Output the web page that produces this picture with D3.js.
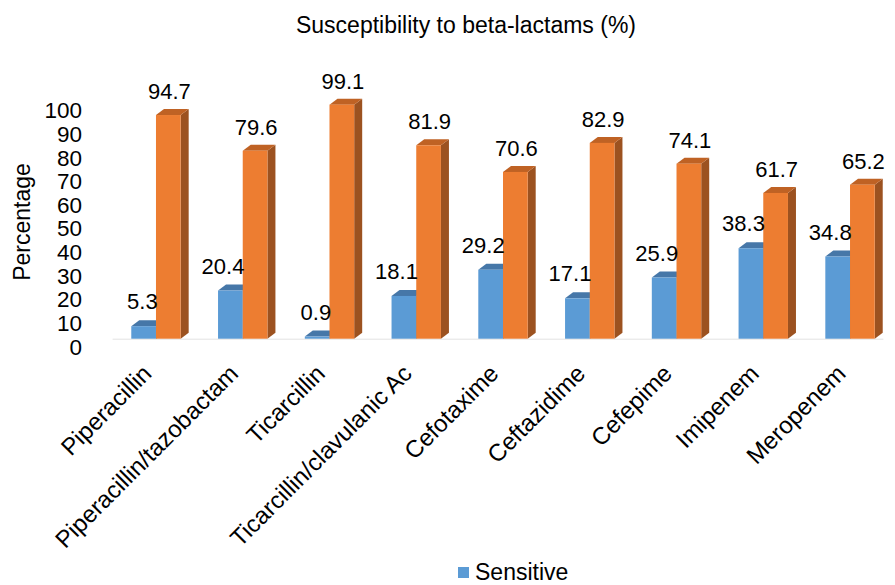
<!DOCTYPE html>
<html>
<head>
<meta charset="utf-8">
<script src="https://cdn.jsdelivr.net/npm/d3@7/dist/d3.min.js"></script>
<style>
  html, body { margin: 0; padding: 0; background: #fff; }
  svg { display: block; font-family: "Liberation Sans", Arial, sans-serif; }
</style>
</head>
<body>
<svg id="chart" width="895" height="585"></svg>
<script>
// Antibiotics tested
const categories = [
  "Piperacillin", "Piperacillin/tazobactam", "Ticarcillin",
  "Ticarcillin/clavulanic Ac", "Cefotaxime", "Ceftazidime",
  "Cefepime", "Imipenem", "Meropenem"
];
// Percent of isolates susceptible
const sensitive = [5.3, 20.4, 0.9, 18.1, 29.2, 17.1, 25.9, 38.3, 34.8];
// Percent of isolates resistant
const resistant = [94.7, 79.6, 99.1, 81.9, 70.6, 82.9, 74.1, 61.7, 65.2];
// Value axis ticks
const yTicks = [0, 10, 20, 30, 40, 50, 60, 70, 80, 90, 100];

const svg = d3.select("#chart");

const x = d3.scaleBand().domain(categories).range([112.6, 893.4]).paddingInner(0).paddingOuter(0);
const y = d3.scaleLinear().domain([0, 100]).range([338.7, 102.5]);

const barW = 24.7;     // width of one bar's front face
const dx = 8, dy = 6;  // depth offset of the 3D extrusion

const center = c => x(c) + x.bandwidth() / 2;

// floor edge
svg.append("line")
  .attr("x1", x.range()[0]).attr("x2", x.range()[1] - 10)
  .attr("y1", y(0) + 0.5).attr("y2", y(0) + 0.5)
  .attr("stroke", "#e3e3e3").attr("stroke-width", 1);

// title
svg.append("text")
  .attr("x", 466).attr("y", 33)
  .attr("text-anchor", "middle")
  .attr("font-size", 23)
  .attr("fill", "#000")
  .text("Susceptibility to beta-lactams (%)");

// value axis labels
svg.append("g").selectAll("text")
  .data(yTicks).join("text")
  .attr("x", 82)
  .attr("y", d => y(d) + 8)
  .attr("dy", "0.35em")
  .attr("text-anchor", "end")
  .attr("font-size", 22.5)
  .text(d => d);

// axis title
svg.append("text")
  .attr("transform", "translate(30,222) rotate(-90)")
  .attr("text-anchor", "middle")
  .attr("font-size", 23)
  .text("Percentage");

// draw one 3D bar: front, top and right side faces
function bar3d(g, x0, v, cols) {
  const x1 = x0 + barW, yt = y(v), yb = y(0);
  g.append("path")
    .attr("d", `M${x1},${yt}L${x1 + dx},${yt - dy}L${x1 + dx},${yb - dy}L${x1},${yb}Z`)
    .attr("fill", cols.side);
  g.append("path")
    .attr("d", `M${x0},${yt}L${x0 + dx},${yt - dy}L${x1 + dx},${yt - dy}L${x1},${yt}Z`)
    .attr("fill", cols.top);
  g.append("rect")
    .attr("x", x0).attr("y", yt)
    .attr("width", barW).attr("height", yb - yt)
    .attr("fill", cols.front);
}

const blue = { front: "#5B9BD5", top: "#4677A8", side: "#3E6A96" };
const orange = { front: "#ED7D31", top: "#BF6224", side: "#9C5220" };

const bars = svg.append("g");
categories.forEach((c, i) => {
  const cx = center(c);
  bar3d(bars, cx - barW, sensitive[i], blue);
  bar3d(bars, cx, resistant[i], orange);
});

// data labels
const labels = svg.append("g").attr("font-size", 22);
categories.forEach((c, i) => {
  const cx = center(c);
  labels.append("text")
    .attr("x", cx - barW / 2 + 14)
    .attr("y", y(sensitive[i]) - 17)
    .attr("text-anchor", "end")
    .text(sensitive[i].toFixed(1));
  labels.append("text")
    .attr("x", cx + barW / 2 + 1)
    .attr("y", y(resistant[i]) - 16)
    .attr("text-anchor", "middle")
    .text(resistant[i].toFixed(1));
});

// category labels, rotated
svg.append("g").selectAll("text")
  .data(categories).join("text")
  .attr("transform", d => `translate(${center(d) - 3},${375}) rotate(-45)`)
  .attr("text-anchor", "end")
  .attr("font-size", 24)
  .text(d => d);

// legend
const lg = svg.append("g");
lg.append("rect").attr("x", 458).attr("y", 567).attr("width", 11).attr("height", 11).attr("fill", "#5B9BD5");
lg.append("text").attr("x", 475).attr("y", 580).attr("font-size", 23).text("Sensitive");
</script>
</body>
</html>
